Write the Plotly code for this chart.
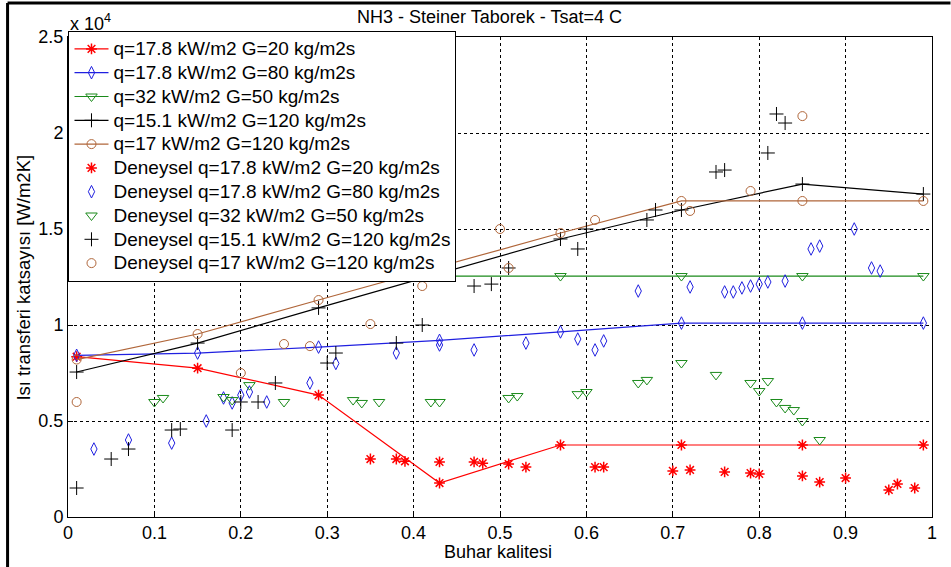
import plotly.graph_objects as go

# ---- data ----
model_x = [0.01, 0.15, 0.29, 0.43, 0.57, 0.71, 0.85, 0.99]
model_red = [8350, 7750, 6350, 1770, 3750, 3750, 3750, 3750]
model_blue = [8420, 8540, 8850, 9200, 9640, 10100, 10100, 10100]
model_green = [12550, 12550, 12550, 12550, 12550, 12550, 12550, 12550]
model_black = [7550, 9060, 10890, 12700, 14480, 15990, 17340, 16820]
model_brown = [8200, 9530, 11300, 13050, 14790, 16460, 16460, 16460]

exp_red_x = [0.35, 0.38, 0.39, 0.43, 0.47, 0.48, 0.51, 0.53, 0.61, 0.62, 0.70, 0.72, 0.76,
             0.79, 0.80, 0.85, 0.87, 0.90, 0.95, 0.96, 0.98]
exp_red_y = [3020, 3020, 2900, 2870, 2870, 2800, 2760, 2600, 2600, 2600, 2400, 2450, 2350,
             2290, 2240, 2140, 1820, 2030, 1410, 1720, 1510]

exp_blue_x = [0.03, 0.07, 0.12, 0.16, 0.18, 0.19, 0.20, 0.21, 0.23, 0.28, 0.31, 0.38, 0.43,
              0.47, 0.53, 0.59, 0.61, 0.62, 0.66, 0.72, 0.76, 0.77, 0.78, 0.79, 0.80, 0.81,
              0.83, 0.86, 0.87, 0.91, 0.93, 0.94]
exp_blue_y = [3540, 4010, 3850, 5000, 6200, 5940, 6350, 6510, 5990, 6980, 8000, 8540, 8960,
              8700, 9060, 9270, 8700, 9170, 11770, 11980, 11720, 11720, 11930, 12030, 12130, 12240,
              12290, 13960, 14110, 15000, 12970, 12810]

exp_green_x = [0.10, 0.11, 0.18, 0.19, 0.21, 0.25, 0.33, 0.34, 0.36, 0.42, 0.43, 0.51, 0.52,
               0.59, 0.60, 0.66, 0.67, 0.71, 0.75, 0.79, 0.80, 0.81, 0.82, 0.83, 0.84, 0.85, 0.87]
exp_green_y = [5990, 6200, 6250, 6090, 6870, 5990, 6090, 5940, 5990, 5990, 5990, 6200, 6300,
               6400, 6510, 6980, 7140, 8020, 7400, 6980, 6560, 7080, 5990, 5680, 5570, 5000, 4010]

exp_black_x = [0.01, 0.05, 0.07, 0.12, 0.13, 0.19, 0.20, 0.22, 0.24, 0.30, 0.31, 0.38, 0.41,
               0.47, 0.49, 0.51, 0.59, 0.60, 0.67, 0.68, 0.75, 0.76, 0.81, 0.82, 0.83]
exp_black_y = [1510, 3020, 3540, 4530, 4580, 4530, 5990, 5990, 6980, 8020, 8540, 9060, 10000,
               12030, 12130, 12970, 13960, 15000, 15470, 15990, 17970, 18070, 18960, 20990, 20520]

exp_brown_x = [0.01, 0.20, 0.25, 0.28, 0.35, 0.41, 0.50, 0.51, 0.61, 0.72, 0.79, 0.85]
exp_brown_y = [5990, 7500, 9010, 8900, 10050, 12030, 15000, 12970, 15470, 15940, 16980, 20880]

names_model = ["q=17.8 kW/m2 G=20 kg/m2s", "q=17.8 kW/m2 G=80 kg/m2s", "q=32 kW/m2 G=50 kg/m2s",
               "q=15.1 kW/m2 G=120 kg/m2s", "q=17 kW/m2 G=120 kg/m2s"]
names_exp = ["Deneysel " + n for n in names_model]

x_ticks = [0, 0.1, 0.2, 0.3, 0.4, 0.5, 0.6, 0.7, 0.8, 0.9, 1]
x_ticktext = ["0", "0.1", "0.2", "0.3", "0.4", "0.5", "0.6", "0.7", "0.8", "0.9", "1"]
y_ticks = [0, 5000, 10000, 15000, 20000, 25000]
y_ticktext = ["0", "0.5", "1", "1.5", "2", "2.5"]

# ---- styles ----
RED = "#ff0000"
BLUE = "#2020e0"
GREEN = "#1a8a1a"
BLACK = "#000000"
BROWN = "#b0663a"
FONT = "Liberation Sans, Arial, sans-serif"

colors = [RED, BLUE, GREEN, BLACK, BROWN]
symbols = ["asterisk-open", "diamond-tall-open", "triangle-down-open", "cross-thin-open", "circle-open"]
sizes = [9, 9, 10, 10, 9]
model_ys = [model_red, model_blue, model_green, model_black, model_brown]
exp_xs = [exp_red_x, exp_blue_x, exp_green_x, exp_black_x, exp_brown_x]
exp_ys = [exp_red_y, exp_blue_y, exp_green_y, exp_black_y, exp_brown_y]


def leg(name):
    return '<span style="font-size:19px">' + name + '</span>'


fig = go.Figure()
for i in range(5):
    fig.add_trace(go.Scatter(
        x=model_x, y=model_ys[i], mode="lines+markers", name=leg(names_model[i]),
        line=dict(color=colors[i], width=1.2),
        marker=dict(symbol=symbols[i], size=sizes[i], color=colors[i],
                    line=dict(color=colors[i], width=1.5 if i == 0 else 1)),
    ))
for i in range(5):
    fig.add_trace(go.Scatter(
        x=exp_xs[i], y=exp_ys[i], mode="markers", name=leg(names_exp[i]),
        marker=dict(symbol=symbols[i], size=sizes[i], color=colors[i],
                    line=dict(color=colors[i], width=1.5 if i == 0 else 1)),
    ))

L, R, T, B = 67.5, 932.5, 37, 517
PW, PH = R - L, B - T


def px(xp):
    return (xp - L) / PW


def py(yp):
    return (B - yp) / PH


fig.update_layout(
    width=951, height=567,
    margin=dict(l=L, r=951 - R, t=T, b=567 - B, autoexpand=False),
    paper_bgcolor="white", plot_bgcolor="white",
    font=dict(family=FONT, size=18, color="black"),
    showlegend=True,
    legend=dict(x=px(68), y=py(31), xanchor="left", yanchor="top",
                bgcolor="white", bordercolor="black", borderwidth=1,
                font=dict(family=FONT, size=16, color="black"),
                itemwidth=34, tracegroupgap=0),
    xaxis=dict(range=[0, 1], tickvals=x_ticks, ticktext=x_ticktext,
               showline=True, linecolor="black", linewidth=1, mirror=True,
               ticks="inside", ticklen=5, tickcolor="black",
               showgrid=True, gridcolor="black", gridwidth=1, griddash="3px,3px",
               zeroline=False, tickfont=dict(size=18), ticklabelstandoff=-1),
    yaxis=dict(range=[0, 25000], tickvals=y_ticks, ticktext=y_ticktext,
               showline=True, linecolor="black", linewidth=1, mirror=True,
               ticks="inside", ticklen=5, tickcolor="black",
               showgrid=True, gridcolor="black", gridwidth=1, griddash="3px,3px",
               zeroline=False, tickfont=dict(size=18)),
)

fig.add_annotation(x=px(489.5), y=py(17), xref="paper", yref="paper",
                   text="NH3 - Steiner Taborek - Tsat=4 C", showarrow=False,
                   xanchor="center", yanchor="middle", font=dict(size=18))
fig.add_annotation(x=px(498), y=py(552), xref="paper", yref="paper",
                   text="Buhar kalitesi", showarrow=False,
                   xanchor="center", yanchor="middle", font=dict(size=18))
fig.add_annotation(x=px(22), y=py(278), xref="paper", yref="paper",
                   text="Isı transferi katsayısı [W/m2K]", showarrow=False, textangle=-90,
                   xanchor="center", yanchor="middle", font=dict(size=18.5))
fig.add_annotation(x=px(68), y=py(36), xref="paper", yref="paper",
                   text="x 10<sup>4</sup>", showarrow=False,
                   xanchor="left", yanchor="bottom", font=dict(size=18))

# figure frame lines (left and top)
fig.add_shape(type="line", xref="paper", yref="paper", x0=px(7), x1=px(7), y0=py(567), y1=py(3),
              line=dict(color="black", width=3))
fig.add_shape(type="line", xref="paper", yref="paper", x0=px(7), x1=px(951), y0=py(3), y1=py(3),
              line=dict(color="black", width=3))

fig.write_html("out.html")
